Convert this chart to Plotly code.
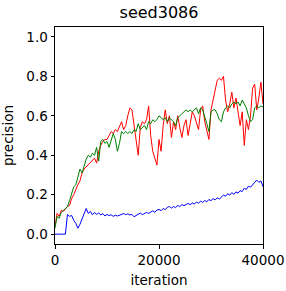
import plotly.graph_objects as go

iterations = list(range(0, 40001, 400))

blue_precision = [
    0.0, 0.0, 0.0, 0.0, 0.0, 0.0, 0.10, 0.09, 0.095, 0.07,
    0.055, 0.03, 0.05, 0.075, 0.105, 0.13, 0.105, 0.115, 0.098, 0.11,
    0.10, 0.108, 0.097, 0.104, 0.092, 0.10, 0.094, 0.098, 0.09, 0.096,
    0.092, 0.097, 0.10, 0.104, 0.099, 0.103, 0.097, 0.10, 0.088, 0.094,
    0.10, 0.107, 0.099, 0.104, 0.11, 0.105, 0.112, 0.118, 0.111, 0.122,
    0.125, 0.119, 0.13, 0.124, 0.136, 0.14, 0.132, 0.14, 0.135, 0.145,
    0.14, 0.15, 0.144, 0.15, 0.156, 0.149, 0.158, 0.152, 0.163, 0.157,
    0.167, 0.161, 0.17, 0.165, 0.175, 0.17, 0.18, 0.174, 0.184, 0.178,
    0.19, 0.198, 0.192, 0.205, 0.198, 0.21, 0.202, 0.214, 0.208, 0.22,
    0.216, 0.233, 0.226, 0.243, 0.238, 0.253, 0.262, 0.274, 0.262, 0.27,
    0.24,
]

red_precision = [
    0.04, 0.105, 0.09, 0.12, 0.115, 0.13, 0.14, 0.145, 0.18, 0.2,
    0.23, 0.25, 0.27, 0.31, 0.33, 0.34, 0.35, 0.36, 0.37, 0.385,
    0.36, 0.42, 0.45, 0.47, 0.48, 0.48, 0.5, 0.52, 0.51, 0.53,
    0.52, 0.55, 0.57, 0.53, 0.55, 0.6, 0.64, 0.63, 0.55, 0.48,
    0.40, 0.54, 0.57, 0.56, 0.58, 0.65, 0.5, 0.42, 0.39, 0.35,
    0.48, 0.42, 0.55, 0.63, 0.56, 0.6, 0.49, 0.57, 0.53, 0.6,
    0.54, 0.49, 0.55, 0.58, 0.5, 0.57, 0.62, 0.6, 0.56, 0.53,
    0.63, 0.65, 0.57, 0.52, 0.48, 0.63, 0.68, 0.74, 0.78, 0.79,
    0.78, 0.8, 0.68, 0.62, 0.66, 0.72, 0.64, 0.69, 0.62, 0.55,
    0.62, 0.45, 0.58, 0.53, 0.6, 0.74, 0.76, 0.63, 0.69, 0.77,
    0.66,
]

green_precision = [
    0.03, 0.09, 0.08, 0.11, 0.12, 0.13, 0.14, 0.17, 0.2, 0.24,
    0.25, 0.29, 0.33, 0.31, 0.35, 0.38, 0.4, 0.39, 0.41, 0.4,
    0.44, 0.37, 0.47, 0.48, 0.46, 0.47, 0.44, 0.47, 0.51, 0.48,
    0.42, 0.46, 0.52, 0.51, 0.52, 0.51, 0.52, 0.51, 0.53, 0.52,
    0.56, 0.53, 0.54, 0.55, 0.53, 0.57, 0.56, 0.58, 0.57, 0.58,
    0.6, 0.59, 0.58, 0.59, 0.57, 0.59, 0.58, 0.57, 0.55, 0.59,
    0.6, 0.61, 0.62, 0.63, 0.62, 0.63, 0.62, 0.63, 0.64, 0.61,
    0.64, 0.63, 0.6, 0.56, 0.52, 0.62, 0.63, 0.63, 0.61, 0.58,
    0.57, 0.62, 0.64, 0.65, 0.64, 0.66, 0.67, 0.66, 0.67, 0.65,
    0.68, 0.66, 0.64, 0.6, 0.57, 0.58, 0.64, 0.65, 0.64, 0.65,
    0.645,
]

x_tick_values = [0, 20000, 40000]
x_tick_labels = ["0", "20000", "40000"]
y_tick_values = [0.0, 0.2, 0.4, 0.6, 0.8, 1.0]
y_tick_labels = ["0.0", "0.2", "0.4", "0.6", "0.8", "1.0"]

FONT = "DejaVu Sans"

fig = go.Figure()
fig.add_trace(go.Scatter(x=iterations, y=blue_precision, mode="lines",
                         line=dict(color="blue", width=1)))
fig.add_trace(go.Scatter(x=iterations, y=red_precision, mode="lines",
                         line=dict(color="red", width=1)))
fig.add_trace(go.Scatter(x=iterations, y=green_precision, mode="lines",
                         line=dict(color="green", width=1)))

axis_common = dict(
    showline=True, linecolor="black", linewidth=1, mirror=True,
    ticks="outside", ticklen=3.5, tickwidth=1, tickcolor="black",
    showgrid=False, zeroline=False, automargin=False,
    tickfont=dict(family=FONT, size=13.5, color="black"),
)

fig.update_layout(
    width=286, height=291,
    margin=dict(l=55, r=23, t=27, b=47),
    paper_bgcolor="white", plot_bgcolor="white",
    showlegend=False,
    title=dict(text="seed3086", x=0.5, xref="paper", xanchor="center",
               y=1 - 12.5 / 291, yref="container", yanchor="middle",
               font=dict(family=FONT, size=16, color="black")),
    xaxis=dict(range=[0, 40000], tickvals=x_tick_values, ticktext=x_tick_labels,
               title=dict(text="iteration", standoff=8,
                          font=dict(family=FONT, size=13.5, color="black")),
               **axis_common),
    yaxis=dict(range=[-0.05, 1.05], tickvals=y_tick_values, ticktext=y_tick_labels,
               title=dict(text="precision", standoff=9,
                          font=dict(family=FONT, size=13.5, color="black")),
               **axis_common),
)

fig.write_html(
    "out.html",
    config={"displayModeBar": False},
    post_script="document.body.style.margin='0';document.body.style.overflow='hidden';",
)
